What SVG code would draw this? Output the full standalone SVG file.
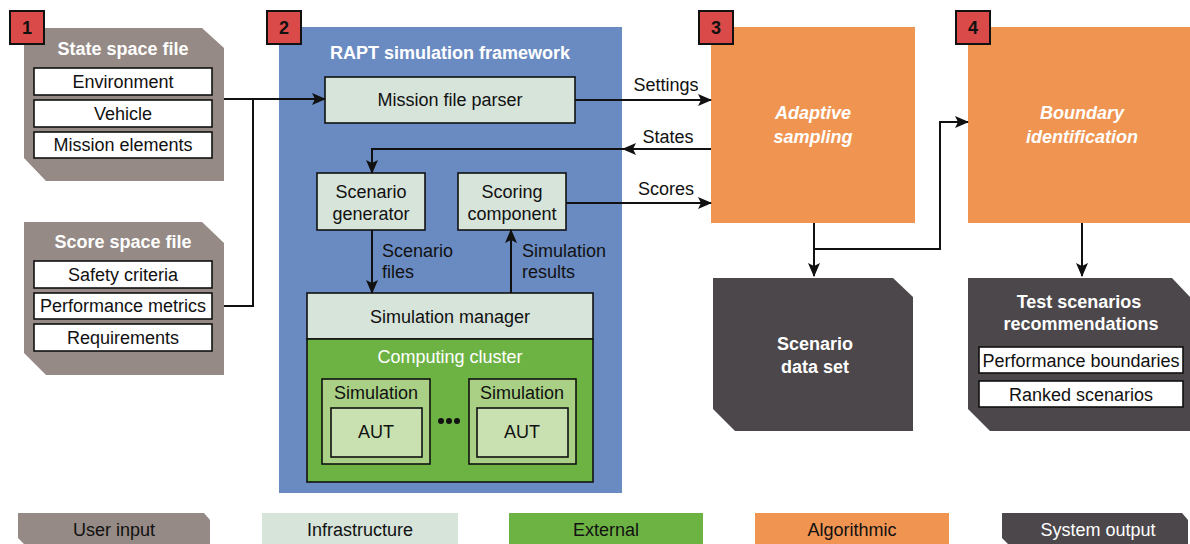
<svg xmlns="http://www.w3.org/2000/svg" width="1190" height="544" viewBox="0 0 1190 544">
<style>
text{font-family:"Liberation Sans",Arial,sans-serif;font-size:18px;fill:#111;text-anchor:middle}
.b{font-weight:bold}
.w{fill:#fff}
.bi{font-weight:bold;font-style:italic;fill:#fff}
.badge{fill:#d94a48;stroke:#111;stroke-width:2}
.user{fill:#958a85}
.out{fill:#4b474a}
.alg{fill:#f09452}
.infra{fill:#d6e4da;stroke:#111;stroke-width:1.6}
.wbox{fill:#fff;stroke:#111;stroke-width:1.6}
.sim{fill:#a9d085;stroke:#111;stroke-width:1.6}
.aut{fill:#c9e1b0;stroke:#111;stroke-width:1.6}
.c{fill:none;stroke:#111;stroke-width:2}
</style>
<defs>
<marker id="ah" markerUnits="userSpaceOnUse" markerWidth="14" markerHeight="12" refX="13" refY="6" orient="auto">
<path d="M0,0 L14,6 L0,12 L3,6 Z" fill="#111"/>
</marker>
</defs>

<g id="state-space-file">
<polygon class="user" points="24,28 202,28 224,48 224,181 46,181 24,158"/>
<text class="b w" x="123" y="55">State space file</text>
<rect class="wbox" x="34" y="68" width="178" height="27"/>
<text x="123" y="88">Environment</text>
<rect class="wbox" x="34" y="100" width="178" height="27"/>
<text x="123" y="120">Vehicle</text>
<rect class="wbox" x="34" y="132" width="178" height="26"/>
<text x="123" y="151">Mission elements</text>
<rect class="badge" x="10" y="11" width="34" height="33"/>
<text class="b" x="27" y="34">1</text>
</g>

<g id="score-space-file">
<polygon class="user" points="24,222 202,222 224,243 224,375 46,375 24,353"/>
<text class="b w" x="123" y="248">Score space file</text>
<rect class="wbox" x="34" y="261" width="178" height="27"/>
<text x="123" y="281">Safety criteria</text>
<rect class="wbox" x="34" y="293" width="178" height="26"/>
<text x="123" y="312">Performance metrics</text>
<rect class="wbox" x="34" y="324" width="178" height="27"/>
<text x="123" y="344">Requirements</text>
</g>

<g id="rapt-framework">
<rect x="279" y="27" width="343" height="466" fill="#6a8bc2"/>
<text class="b w" x="450" y="59">RAPT simulation framework</text>
<rect class="badge" x="267" y="11" width="34" height="33"/>
<text class="b" x="284" y="34">2</text>
</g>

<g id="mission-file-parser">
<rect class="infra" x="325" y="77" width="250" height="46"/>
<text x="450" y="106">Mission file parser</text>
</g>

<g id="scenario-generator">
<rect class="infra" x="317" y="173" width="108" height="57"/>
<text x="371" y="198">Scenario</text>
<text x="371" y="220">generator</text>
</g>

<g id="scoring-component">
<rect class="infra" x="458" y="173" width="108" height="57"/>
<text x="512" y="198">Scoring</text>
<text x="512" y="220">component</text>
</g>

<g id="simulation-manager">
<rect class="infra" x="307" y="293" width="286" height="46"/>
<text x="450" y="323">Simulation manager</text>
</g>

<g id="computing-cluster">
<rect x="307" y="339" width="286" height="143" fill="#6db344" stroke="#111" stroke-width="1.6"/>
<text class="w" x="450" y="363">Computing cluster</text>
<rect class="sim" x="322" y="379" width="108" height="85"/>
<text x="376" y="399">Simulation</text>
<rect class="aut" x="331" y="408" width="91" height="49"/>
<text x="376" y="438">AUT</text>
<circle cx="441" cy="421" r="3" fill="#111"/>
<circle cx="449" cy="421" r="3" fill="#111"/>
<circle cx="457" cy="421" r="3" fill="#111"/>
<rect class="sim" x="469" y="379" width="107" height="85"/>
<text x="522" y="399">Simulation</text>
<rect class="aut" x="477" y="408" width="91" height="49"/>
<text x="522" y="438">AUT</text>
</g>

<g id="adaptive-sampling">
<rect class="alg" x="711" y="27" width="204" height="196"/>
<text class="bi" x="813" y="119">Adaptive</text>
<text class="bi" x="813" y="143">sampling</text>
<rect class="badge" x="699" y="11" width="34" height="33"/>
<text class="b" x="716" y="34">3</text>
</g>

<g id="boundary-identification">
<rect class="alg" x="968" y="27" width="222" height="196"/>
<text class="bi" x="1082" y="119">Boundary</text>
<text class="bi" x="1082" y="143">identification</text>
<rect class="badge" x="956" y="11" width="34" height="33"/>
<text class="b" x="973" y="34">4</text>
</g>

<g id="scenario-data-set">
<polygon class="out" points="713,278 893,278 913,297 913,431 735,431 713,409"/>
<text class="b w" x="815" y="350">Scenario</text>
<text class="b w" x="815" y="373">data set</text>
</g>

<g id="test-scenarios">
<polygon class="out" points="968,278 1172,278 1190,297 1190,431 990,431 968,409"/>
<text class="b w" x="1079" y="308">Test scenarios</text>
<text class="b w" x="1081" y="330">recommendations</text>
<rect class="wbox" x="979" y="347" width="204" height="26"/>
<text x="1081" y="367">Performance boundaries</text>
<rect class="wbox" x="979" y="381" width="204" height="26"/>
<text x="1081" y="401">Ranked scenarios</text>
</g>

<g id="connectors">
<path class="c" d="M224,99 H325" marker-end="url(#ah)"/>
<path class="c" d="M224,306 H253 V99"/>
<path class="c" d="M575,100 H711" marker-end="url(#ah)"/>
<text x="666" y="91">Settings</text>
<path class="c" d="M711,149 H623" marker-end="url(#ah)"/>
<text x="668" y="143">States</text>
<path class="c" d="M623,149 H372 V173" marker-end="url(#ah)"/>
<path class="c" d="M566,203 H711" marker-end="url(#ah)"/>
<text x="666" y="195">Scores</text>
<path class="c" d="M372,230 V293" marker-end="url(#ah)"/>
<text x="382" y="257" style="text-anchor:start">Scenario</text>
<text x="382" y="278" style="text-anchor:start">files</text>
<path class="c" d="M511,293 V230" marker-end="url(#ah)"/>
<text x="522" y="257" style="text-anchor:start">Simulation</text>
<text x="522" y="278" style="text-anchor:start">results</text>
<path class="c" d="M814,223 V276" marker-end="url(#ah)"/>
<path class="c" d="M814,249 H940 V122 H968" marker-end="url(#ah)"/>
<path class="c" d="M1082,223 V276" marker-end="url(#ah)"/>
</g>

<g id="legend">
<polygon class="user" points="18,513 204,513 210,520 210,544 24,544 18,538"/>
<text x="114" y="536">User input</text>
<rect x="262" y="513" width="196" height="31" fill="#d6e4da"/>
<text x="360" y="536">Infrastructure</text>
<rect x="509" y="513" width="194" height="31" fill="#6db344"/>
<text x="606" y="536">External</text>
<rect x="755" y="513" width="194" height="31" fill="#f09452"/>
<text x="852" y="536">Algorithmic</text>
<polygon class="out" points="1002,513 1182,513 1188,520 1188,544 1008,544 1002,538"/>
<text class="w" x="1098" y="536">System output</text>
</g>
</svg>
